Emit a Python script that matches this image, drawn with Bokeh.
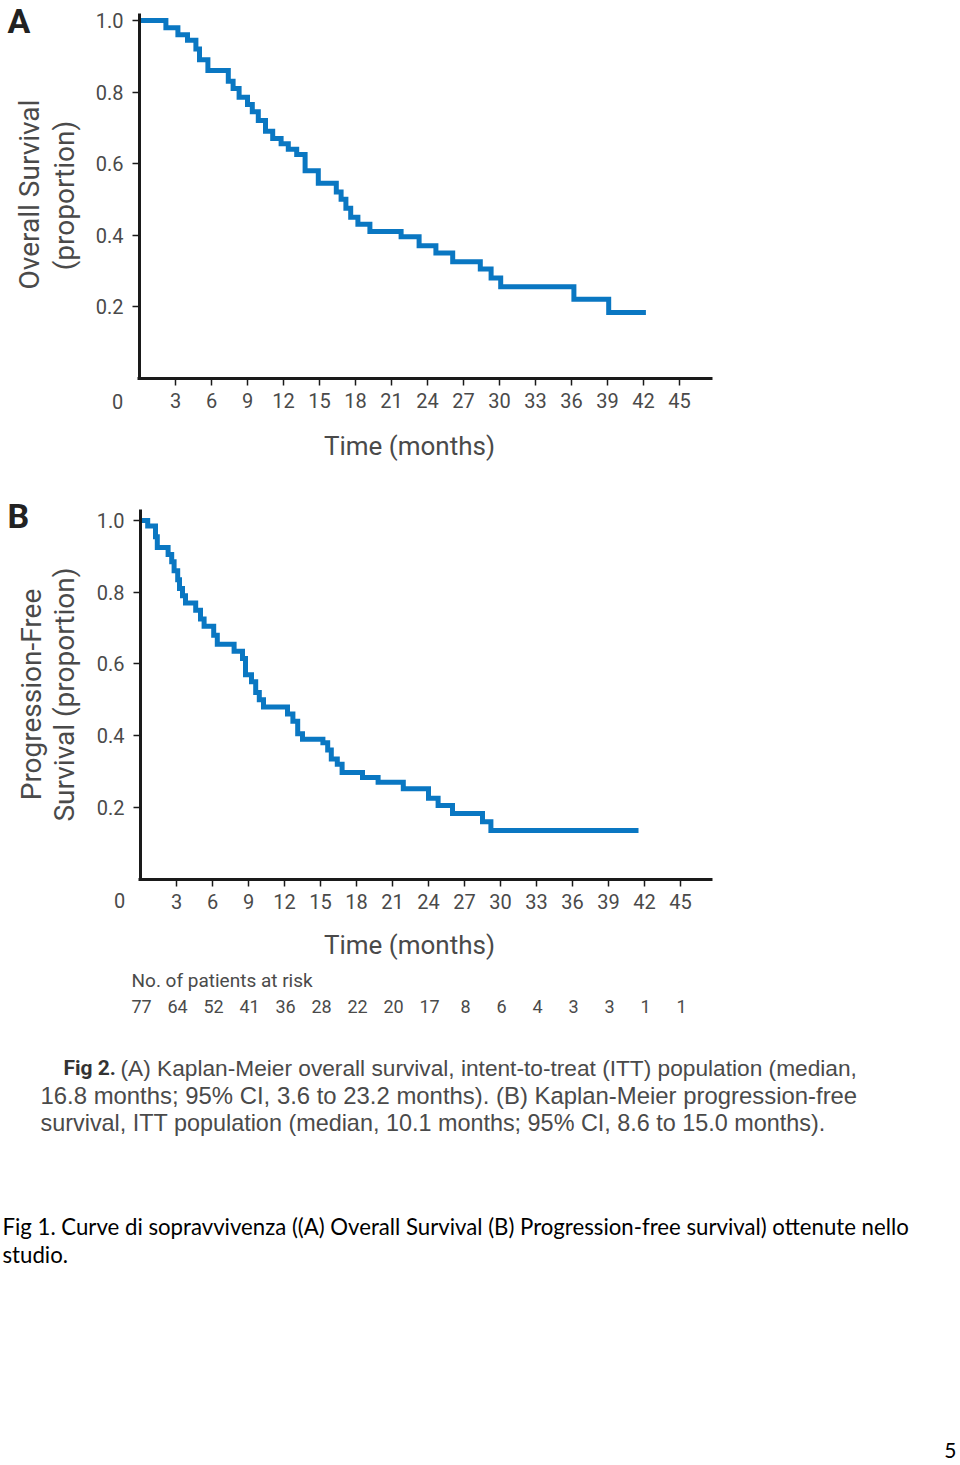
import math
from bokeh.plotting import figure
from bokeh.models import Range1d, Label, LabelSet, ColumnDataSource, FixedTicker, NumeralTickFormatter
from bokeh.layouts import column
from bokeh.core.properties import value
from bokeh.embed import file_html
from bokeh.resources import INLINE

# ---------------- data ----------------
# Panel A: Kaplan-Meier overall survival (step times in months, survival proportion)
os_time = [0, 2.2, 3.2, 4.0, 4.7, 5.0, 5.7, 7.4, 7.8, 8.3, 9.0, 9.4, 9.9, 10.5, 11.1, 11.8,
           12.4, 13.1, 13.8, 14.9, 16.4, 16.8, 17.2, 17.6, 18.2, 19.2, 21.8, 23.3, 24.7,
           26.1, 28.4, 29.3, 30.1, 36.2, 39.1, 42.2]
os_surv = [1.0, 0.98, 0.96, 0.945, 0.92, 0.89, 0.86, 0.83, 0.81, 0.785, 0.765, 0.745, 0.72,
           0.69, 0.67, 0.655, 0.64, 0.625, 0.58, 0.545, 0.52, 0.50, 0.475, 0.45, 0.43, 0.41,
           0.395, 0.37, 0.35, 0.325, 0.305, 0.28, 0.255, 0.22, 0.183, 0.183]

# Panel B: Kaplan-Meier progression-free survival
pfs_time = [0, 0.6, 1.25, 1.4, 2.3, 2.6, 2.8, 3.1, 3.25, 3.5, 3.75, 4.6, 5.0, 5.3, 6.1, 6.4,
            7.8, 8.5, 8.75, 9.25, 9.6, 9.9, 10.25, 12.25, 12.7, 13.1, 13.5, 15.2, 15.6, 15.9,
            16.4, 16.8, 18.5, 19.8, 21.9, 24.0, 24.8, 26.0, 28.5, 29.2, 41.5]
pfs_surv = [1.0, 0.985, 0.955, 0.925, 0.905, 0.885, 0.86, 0.835, 0.81, 0.79, 0.77, 0.75, 0.725,
            0.705, 0.68, 0.655, 0.635, 0.615, 0.57, 0.55, 0.52, 0.50, 0.48, 0.46, 0.44, 0.405,
            0.39, 0.38, 0.36, 0.335, 0.32, 0.297, 0.283, 0.27, 0.252, 0.225, 0.205, 0.183,
            0.16, 0.135, 0.135]

x_ticks = [3, 6, 9, 12, 15, 18, 21, 24, 27, 30, 33, 36, 39, 42, 45]
y_ticks = [0.2, 0.4, 0.6, 0.8, 1.0]

risk_times = [0, 3, 6, 9, 12, 15, 18, 21, 24, 27, 30, 33, 36, 39, 42, 45]
at_risk = [77, 64, 52, 41, 36, 28, 22, 20, 17, 8, 6, 4, 3, 3, 1, 1]

# ---------------- texts ----------------
title_a = ["Overall Survival", "(proportion)"]
title_b = ["Progression-Free", "Survival (proportion)"]
x_title = "Time (months)"
risk_title = "No. of patients at risk"
cap_bold = "Fig 2."
cap_lines = ["(A) Kaplan-Meier overall survival, intent-to-treat (ITT) population (median,",
             "16.8 months; 95%  CI, 3.6 to 23.2 months). (B) Kaplan-Meier progression-free",
             "survival, ITT population (median, 10.1 months; 95% CI, 8.6 to 15.0 months)."]
page_lines = ["Fig 1. Curve di sopravvivenza ((A) Overall Survival (B) Progression-free survival) ottenute nello",
              "studio."]
page_no = "5"

# ---------------- style ----------------
CHF = "Roboto"
REG = "Liberation Sans"
PAGEF = "Lato"
TXT = "#4a4a4a"
BLUE = "#0a77c2"
AXC = "#1a1a1a"
W = 958
PXM = 12.0  # pixels per month


def make_fig(height, x0px, y0px, yscale, canvas_top, xmax, ytop):
    # canvas == frame; mapping given in page pixels
    fx = lambda px: (px - x0px) / PXM
    fy = lambda py: (y0px - py) / yscale
    p = figure(width=W, height=height,
               x_range=Range1d(fx(0), fx(W)),
               y_range=Range1d(fy(canvas_top + height), fy(canvas_top)),
               output_backend="svg", toolbar_location=None,
               min_border_left=0, min_border_right=0, min_border_top=0, min_border_bottom=0)
    p.grid.visible = False
    p.outline_line_color = None
    p.background_fill_color = "white"
    p.border_fill_color = "white"
    for ax in (p.xaxis[0], p.yaxis[0]):
        ax.fixed_location = 0
        ax.axis_line_width = 3
        ax.axis_line_color = AXC
        ax.major_tick_line_color = AXC
        ax.major_tick_line_width = 1.5
        ax.major_tick_out = 7
        ax.major_tick_in = 0
        ax.minor_tick_line_color = None
        ax.major_label_text_font = CHF
        ax.major_label_text_font_size = "20px"
        ax.major_label_text_color = TXT
    p.xaxis.ticker = FixedTicker(ticks=x_ticks)
    p.yaxis.ticker = FixedTicker(ticks=y_ticks)
    p.yaxis.formatter = NumeralTickFormatter(format="0.0")
    p.xaxis.bounds = (-0.13, xmax)
    p.yaxis.bounds = (0, ytop)
    p.xaxis.major_label_standoff = 8
    p.yaxis.major_label_standoff = 9
    return p, fx, fy


def lab(p, fx, fy, px, py, text, font, size, color, align="left", bold=False, angle=0.0):
    # (px, py): page position of the text's horizontal anchor and vertical middle
    p.add_layout(Label(x=fx(px), y=fy(py), text=text, text_font=font,
                       text_font_size=f"{size}px", text_color=color, text_align=align,
                       text_baseline="middle", angle=angle,
                       text_font_style="bold" if bold else "normal"))


# ---------------- panel A ----------------
HA = 490
pa, fxa, fya = make_fig(HA, 139, 377.5, 357.5, 0, (712 - 139) / PXM, (377.5 - 13) / 357.5)
pa.step(x=os_time, y=os_surv, mode="after", line_width=5, line_color=BLUE, line_join="miter")

lab(pa, fxa, fya, 7, 20, "A", CHF, 34, "#222222", bold=True)
lab(pa, fxa, fya, 29, 194, title_a[0], CHF, 28, TXT, align="center", angle=math.pi / 2)
lab(pa, fxa, fya, 64, 195, title_a[1], CHF, 28, TXT, align="center", angle=math.pi / 2)
lab(pa, fxa, fya, 409, 445, x_title, CHF, 26, TXT, align="center")
lab(pa, fxa, fya, 117, 401, "0", CHF, 20, TXT, align="center")

# ---------------- panel B ----------------
HB = 1463 - HA
pb, fxb, fyb = make_fig(HB, 140, 878.5, 358.5, HA, (712 - 140) / PXM, (878.5 - 509) / 358.5)
pb.step(x=pfs_time, y=pfs_surv, mode="after", line_width=5, line_color=BLUE, line_join="miter")

lab(pb, fxb, fyb, 7, 515, "B", CHF, 34, "#222222", bold=True)
lab(pb, fxb, fyb, 31, 694, title_b[0], CHF, 28, TXT, align="center", angle=math.pi / 2)
lab(pb, fxb, fyb, 64, 694, title_b[1], CHF, 28, TXT, align="center", angle=math.pi / 2)
lab(pb, fxb, fyb, 409, 944, x_title, CHF, 26, TXT, align="center")
lab(pb, fxb, fyb, 119, 900, "0", CHF, 20, TXT, align="center")
lab(pb, fxb, fyb, 131, 980, risk_title, CHF, 19, TXT)

risk_src = ColumnDataSource(data=dict(x=risk_times, y=[fyb(1006)] * len(risk_times),
                                      t=[str(v) for v in at_risk]))
pb.add_layout(LabelSet(x="x", y="y", text="t", source=risk_src, x_offset=1,
                       text_font=value(CHF), text_font_size="18px", text_color=TXT,
                       text_align="center", text_baseline="middle"))

lab(pb, fxb, fyb, 63, 1067, cap_bold, CHF, 21, "#333333", bold=True)
lab(pb, fxb, fyb, 120, 1067, cap_lines[0], REG, 22.7, TXT)
lab(pb, fxb, fyb, 40, 1095, cap_lines[1], REG, 23.9, TXT)
lab(pb, fxb, fyb, 40, 1122, cap_lines[2], REG, 23.4, TXT)

lab(pb, fxb, fyb, 2, 1226, page_lines[0], PAGEF, 22.2, "#000000")
lab(pb, fxb, fyb, 2, 1254, page_lines[1], PAGEF, 22.2, "#000000")
lab(pb, fxb, fyb, 956, 1450, page_no, PAGEF, 21, "#000000", align="right")

layout = column(pa, pb, spacing=0)
open("out.html", "w").write(file_html(layout, INLINE))
